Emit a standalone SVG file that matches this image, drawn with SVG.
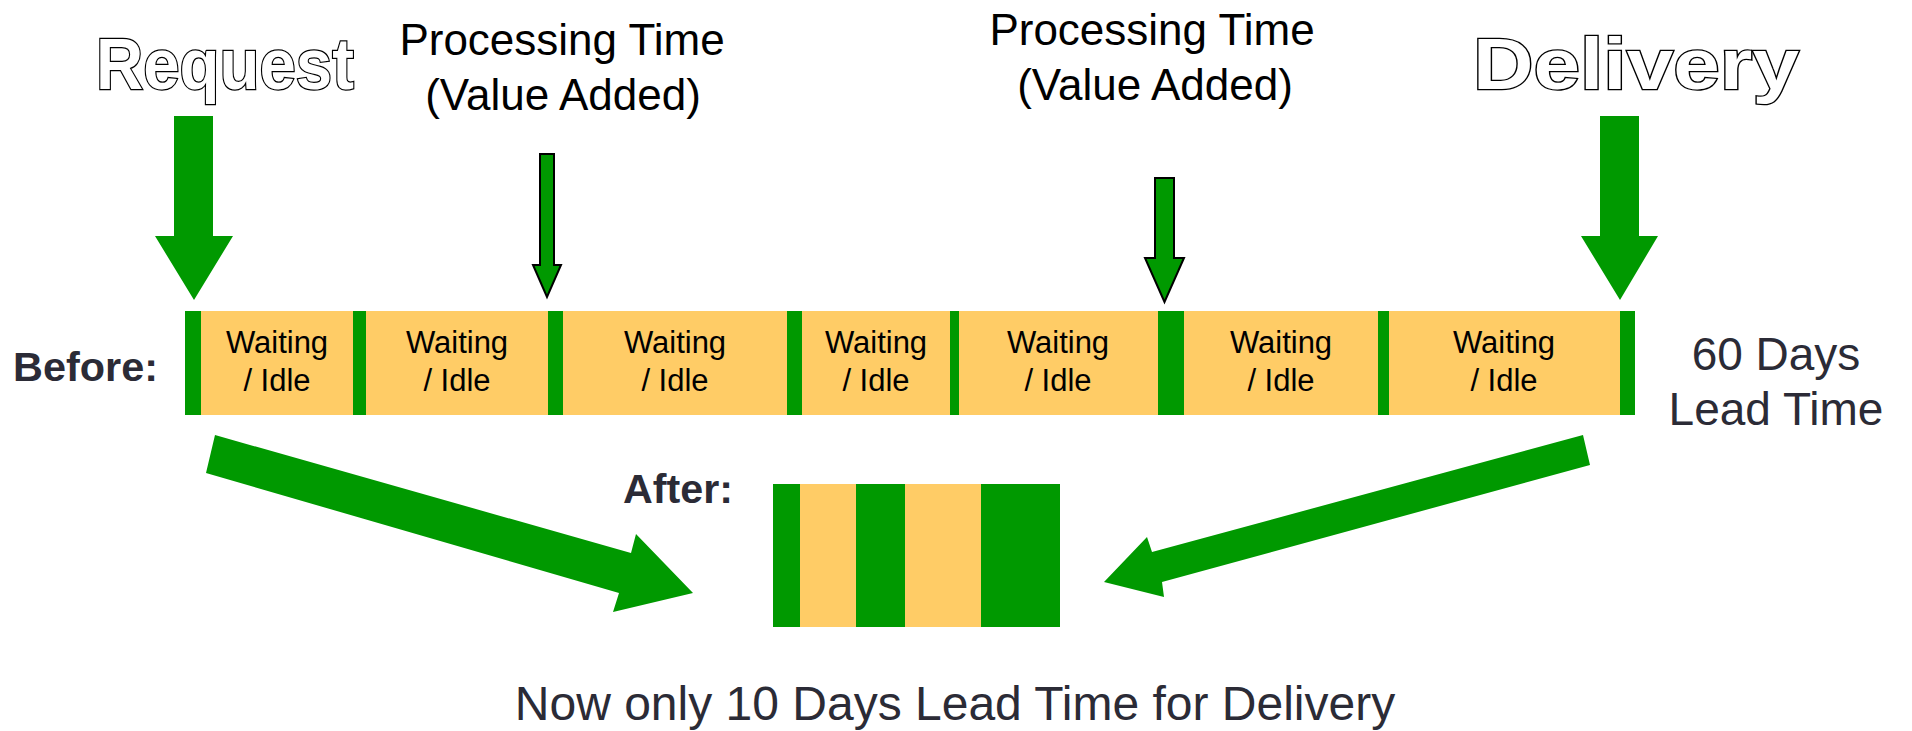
<svg xmlns="http://www.w3.org/2000/svg" width="1912" height="731" viewBox="0 0 1912 731">
<style>
.g{fill:#009900}
.y{fill:#FFCC66}
.big{fill:#009900;stroke:none}
.sm{fill:#009900;stroke:#000;stroke-width:2}
.wt{font-family:"Liberation Sans",Arial,sans-serif;font-size:31px;fill:#000;text-anchor:middle}
.pt{font-family:"Liberation Sans",Arial,sans-serif;font-size:44px;fill:#000;text-anchor:middle}
.ol{font-family:"Liberation Sans",Arial,sans-serif;font-size:72px;font-weight:bold;fill:#fff;stroke:#000;stroke-width:2.5;paint-order:stroke}
.lb{font-family:"Liberation Sans",Arial,sans-serif;font-size:41px;font-weight:bold;fill:#2b2b36}
.dk{font-family:"Liberation Sans",Arial,sans-serif;font-size:46px;fill:#2b2b36;text-anchor:middle}
</style>
<rect width="1912" height="731" fill="#fff"/>
<g id="request"><text class="ol" x="96" y="89" textLength="258" lengthAdjust="spacingAndGlyphs">Request</text></g>
<g id="delivery"><text class="ol" x="1473" y="89" textLength="326" lengthAdjust="spacingAndGlyphs">Delivery</text></g>
<g id="proc1"><text class="pt" x="562" y="55">Processing Time</text><text class="pt" x="563" y="110">(Value Added)</text></g>
<g id="proc2"><text class="pt" x="1152" y="45">Processing Time</text><text class="pt" x="1155" y="100">(Value Added)</text></g>
<g id="before-label"><text class="lb" x="13" y="381" textLength="145" lengthAdjust="spacingAndGlyphs">Before:</text></g>
<g id="before-bar">
<rect class="g" x="185" y="311" width="1450" height="104"/>
<rect class="y" x="201" y="311" width="152" height="104"/>
<rect class="y" x="366" y="311" width="182" height="104"/>
<rect class="y" x="563" y="311" width="224" height="104"/>
<rect class="y" x="802" y="311" width="148" height="104"/>
<rect class="y" x="959" y="311" width="199" height="104"/>
<rect class="y" x="1184" y="311" width="194" height="104"/>
<rect class="y" x="1389" y="311" width="231" height="104"/>
<text class="wt" x="277" y="353">Waiting</text><text class="wt" x="277" y="391">/ Idle</text>
<text class="wt" x="457" y="353">Waiting</text><text class="wt" x="457" y="391">/ Idle</text>
<text class="wt" x="675" y="353">Waiting</text><text class="wt" x="675" y="391">/ Idle</text>
<text class="wt" x="876" y="353">Waiting</text><text class="wt" x="876" y="391">/ Idle</text>
<text class="wt" x="1058" y="353">Waiting</text><text class="wt" x="1058" y="391">/ Idle</text>
<text class="wt" x="1281" y="353">Waiting</text><text class="wt" x="1281" y="391">/ Idle</text>
<text class="wt" x="1504" y="353">Waiting</text><text class="wt" x="1504" y="391">/ Idle</text>
</g>
<g id="lead-before"><text class="dk" x="1776" y="370">60 Days</text><text class="dk" x="1776" y="425">Lead Time</text></g>
<g id="after-label"><text class="lb" x="623" y="503" textLength="110" lengthAdjust="spacingAndGlyphs">After:</text></g>
<g id="after-bar">
<rect class="g" x="773" y="484" width="287" height="143"/>
<rect class="y" x="800" y="484" width="56" height="143"/>
<rect class="y" x="905" y="484" width="76" height="143"/>
</g>
<g id="summary"><text class="dk" x="955" y="720" style="font-size:48px">Now only 10 Days Lead Time for Delivery</text></g>
<g id="connectors">
<polygon class="big" points="174,116 213,116 213,236 233,236 194,300 155,236 174,236"/>
<polygon class="big" points="1600,116 1639,116 1639,236 1658,236 1620,300 1581,236 1600,236"/>
<polygon class="sm" points="540,154 554,154 554,265 561,265 547,297 533,265 540,265"/>
<polygon class="sm" points="1155,178 1174,178 1174,258 1184,258 1164.5,302 1145,258 1155,258"/>
<polygon class="big" points="215,435 631,553 636,534 693,593 613,612 619,593 206,473"/>
<polygon class="big" points="1583,435 1590,465 1162,582 1164,597 1104,582 1147,537 1152,552"/>
</g>
</svg>
